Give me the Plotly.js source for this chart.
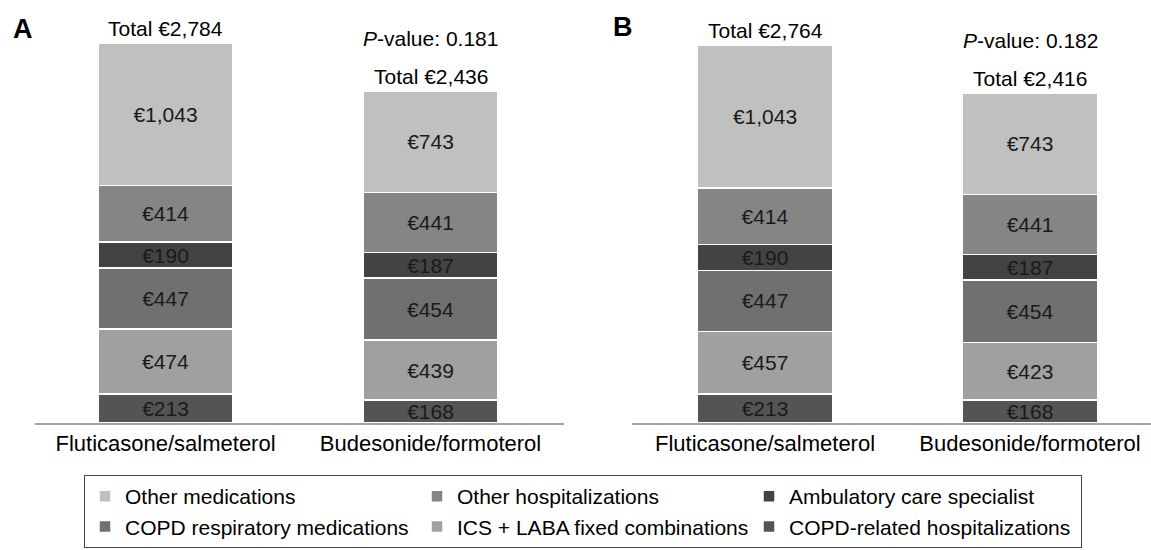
<!DOCTYPE html>
<html>
<head>
<meta charset="utf-8">
<script src="https://cdn.plot.ly/plotly-3.0.1.min.js"></script>
<style>
  html, body { margin: 0; padding: 0; background: #ffffff; }
  #chart { width: 1151px; height: 550px; }
</style>
</head>
<body>
<div id="chart"></div>
<script>
// ---------- data ----------
const categories = ['Fluticasone/salmeterol', 'Budesonide/formoterol'];

// stack order: bottom to top
const seriesNames = [
  'COPD-related hospitalizations',
  'ICS + LABA fixed combinations',
  'COPD respiratory medications',
  'Ambulatory care specialist',
  'Other hospitalizations',
  'Other medications'
];

// Panel A
const copdHospA    = [213, 168];
const icsLabaA     = [474, 439];
const copdRespMedA = [447, 454];
const ambulatoryA  = [190, 187];
const otherHospA   = [414, 441];
const otherMedA    = [1043, 743];
const totalsA      = [2784, 2436];

// Panel B
const copdHospB    = [213, 168];
const icsLabaB     = [457, 423];
const copdRespMedB = [447, 454];
const ambulatoryB  = [190, 187];
const otherHospB   = [414, 441];
const otherMedB    = [1043, 743];
const totalsB      = [2764, 2416];

const pValues = [0.181, 0.182];
const panelLabels = ['A', 'B'];

// ---------- styling ----------
const seriesColors = ['#545454', '#a0a0a0', '#707070', '#434343', '#858585', '#c0c0c0'];
const FONT = 'Liberation Sans, Arial, sans-serif';

const panels = [
  { series: [copdHospA, icsLabaA, copdRespMedA, ambulatoryA, otherHospA, otherMedA], totals: totalsA, xa: 'x',  ya: 'y'  },
  { series: [copdHospB, icsLabaB, copdRespMedB, ambulatoryB, otherHospB, otherMedB], totals: totalsB, xa: 'x2', ya: 'y2' }
];

const traces = [];
const annotations = [];

panels.forEach((p, pi) => {
  p.series.forEach((vals, si) => {
    traces.push({
      type: 'bar',
      name: seriesNames[si],
      x: categories,
      y: vals,
      xaxis: p.xa,
      yaxis: p.ya,
      width: 0.51,
      marker: { color: seriesColors[si], line: { color: '#ffffff', width: 1.5 } },
      texttemplate: '€%{y:,.0f}',
      textposition: 'inside',
      insidetextanchor: 'middle',
      textangle: 0,
      constraintext: 'none',
      textfont: { family: FONT, size: 21, color: '#1a1a1a' },
      hoverinfo: 'skip',
      showlegend: pi === 0,
      legendrank: si
    });
  });
  // totals and p-value annotations
  categories.forEach((c, ci) => {
    const stackTop = p.series.reduce((s, arr) => s + arr[ci], 0);
    annotations.push({
      xref: p.xa, yref: p.ya, x: c, y: stackTop,
      text: 'Total €' + p.totals[ci].toLocaleString('en-US'),
      showarrow: false, yanchor: 'bottom', yshift: 1,
      font: { family: FONT, size: 21, color: '#000' }
    });
  });
  const lastTop = p.series.reduce((s, arr) => s + arr[1], 0);
  annotations.push({
    xref: p.xa, yref: p.ya, x: categories[1], y: lastTop,
    text: '<i>P</i>-value: ' + pValues[pi].toFixed(3),
    showarrow: false, yanchor: 'bottom', yshift: 39,
    font: { family: FONT, size: 21, color: '#000' }
  });
});

annotations.push({
  xref: 'paper', yref: 'paper', x: 23 / 1151, y: 1 - 29 / 550,
  text: '<b>' + panelLabels[0] + '</b>', showarrow: false,
  xanchor: 'center', yanchor: 'middle',
  font: { family: FONT, size: 27, color: '#000' }
});
annotations.push({
  xref: 'paper', yref: 'paper', x: 623 / 1151, y: 1 - 27 / 550,
  text: '<b>' + panelLabels[1] + '</b>', showarrow: false,
  xanchor: 'center', yanchor: 'middle',
  font: { family: FONT, size: 27, color: '#000' }
});

const yDomain = [1 - 423 / 550, 1 - 13.2 / 550];
const xAxisCommon = {
  type: 'category',
  showline: true, linecolor: '#a3a3a3', linewidth: 2,
  showgrid: false, zeroline: false,
  ticks: '', ticklabelstandoff: 0,
  tickfont: { family: FONT, size: 22, color: '#000' },
  fixedrange: true
};
const yAxisCommon = {
  range: [0, 3000], domain: yDomain,
  showline: false, showgrid: false, zeroline: false,
  showticklabels: false, ticks: '', fixedrange: true
};

const layout = {
  width: 1151, height: 550,
  margin: { l: 0, r: 0, t: 0, b: 0, pad: 0 },
  paper_bgcolor: '#ffffff', plot_bgcolor: '#ffffff',
  barmode: 'stack',
  font: { family: FONT, color: '#000' },
  xaxis:  Object.assign({}, xAxisCommon, { domain: [35 / 1151, 564 / 1151], range: [-0.4925, 1.5038], anchor: 'y' }),
  xaxis2: Object.assign({}, xAxisCommon, { domain: [632 / 1151, 1], range: [-0.502, 1.4566], anchor: 'y2' }),
  yaxis:  Object.assign({}, yAxisCommon, { anchor: 'x' }),
  yaxis2: Object.assign({}, yAxisCommon, { anchor: 'x2' }),
  showlegend: true,
  legend: {
    orientation: 'h',
    traceorder: 'reversed',
    x: 84 / 1151, xanchor: 'left',
    y: 1 - 475 / 550, yanchor: 'top',
    bordercolor: '#444', borderwidth: 1,
    entrywidth: 287, entrywidthmode: 'pixels',
    font: { family: FONT, size: 21, color: '#000' },
    bgcolor: 'rgba(0,0,0,0)'
  },
  annotations: annotations
};

Plotly.newPlot('chart', traces, layout, { displayModeBar: false, staticPlot: true });
</script>
</body>
</html>
